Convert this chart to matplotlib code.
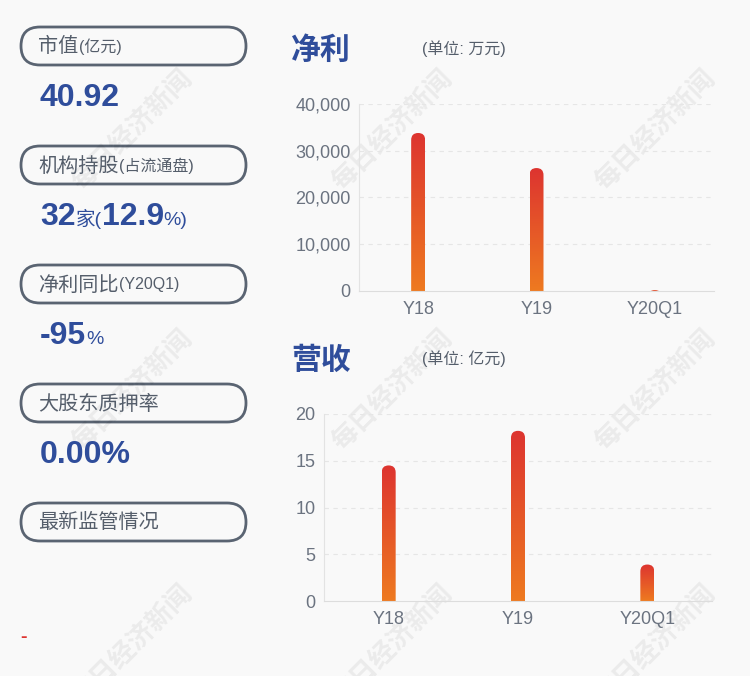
import numpy as np
import matplotlib.pyplot as plt
from matplotlib.patches import FancyBboxPatch
from matplotlib.colors import LinearSegmentedColormap

plt.rcParams['font.family'] = ['Liberation Sans', 'Noto Sans CJK SC', 'DejaVu Sans']

# data
categories = ['Y18', 'Y19', 'Y20Q1']
profit = [33800, 26300, 200]        # 净利, 万元
revenue = [14.5, 18.2, 3.9]         # 营收, 亿元
profit_ticks = [0, 10000, 20000, 30000, 40000]
revenue_ticks = [0, 5, 10, 15, 20]

info_labels = [('市值', '(亿元)'), ('机构持股', '(占流通盘)'), ('净利同比', '(Y20Q1)'),
               ('大股东质押率', ''), ('最新监管情况', '')]
info_values = [[('40.92', 'big')],
               [('32', 'big'), ('家(', 'small'), ('12.9', 'big'), ('%)', 'small')],
               [('-95', 'big'), ('%', 'small')],
               [('0.00%', 'big')],
               []]

bg = '#f9f9f9'
blue = '#2f4d9b'
gray_txt = '#555e6b'
tick_col = '#6b7380'
grad = LinearSegmentedColormap.from_list('g', ['#ee7a20', '#dd3430'])

W, H = 750, 676
fig = plt.figure(figsize=(W / 100, H / 100), dpi=100, facecolor=bg)


def px_axes(x0, y0, x1, y1):
    return fig.add_axes([x0 / W, 1 - y1 / H, (x1 - x0) / W, (y1 - y0) / H])


# background layer for left panel and watermarks
bgax = fig.add_axes([0, 0, 1, 1])
bgax.set_xlim(0, W)
bgax.set_ylim(H, 0)
bgax.axis('off')
bgax.set_zorder(-1)

for wx in [132, 392, 655]:
    for wy in [130, 390, 645]:
        bgax.text(wx, wy, '每日经济新闻', rotation=45, fontsize=19, fontweight='bold',
                  color='#000000', alpha=0.06, ha='center', va='center',
                  family=['Noto Sans CJK SC'])

# left panel pills
renderer = fig.canvas.get_renderer()
for i, (lab, sub) in enumerate(info_labels):
    cy = 46 + i * 119
    pill = FancyBboxPatch((21, cy - 19), 225, 38,
                          boxstyle='round,pad=0,rounding_size=19',
                          fc='none', ec='#5a6472', lw=2)
    bgax.add_patch(pill)
    t = bgax.text(38, cy + 1, lab, fontsize=14.5, color=gray_txt, va='center',
                  family=['Noto Sans CJK SC'])
    if sub:
        bb = t.get_window_extent(renderer=renderer)
        bgax.text(bb.x1 + 1, cy + 1, sub, fontsize=11.5, color=gray_txt, va='center',
                  family=['Liberation Sans', 'Noto Sans CJK SC'])

for i, parts in enumerate(info_values):
    cy = 96 + i * 119
    x = 40
    for txt, kind in parts:
        if kind == 'big':
            t = bgax.text(x, cy + 10, txt, fontsize=23, fontweight='bold', color=blue,
                          va='baseline')
        else:
            t = bgax.text(x, cy + 10, txt, fontsize=14, color=blue, va='baseline',
                          family=['Liberation Sans', 'Noto Sans CJK SC'])
        bb = t.get_window_extent(renderer=renderer)
        x += bb.width

bgax.text(20, 637, '-', fontsize=14, fontweight='bold', color='#dd3430', va='center')


def bar_chart(ax, values, ticks, title, unit, title_y, fmt):
    ax.set_facecolor('none')
    ax.set_xlim(-0.5, len(values) - 0.5)
    ax.set_ylim(ticks[0], ticks[-1])
    ax.set_yticks(ticks)
    ax.set_yticklabels([fmt(v) for v in ticks])
    ax.set_xticks(range(len(values)))
    ax.set_xticklabels(categories)
    ax.tick_params(length=0, labelsize=13, colors=tick_col, pad=6)
    ax.tick_params(axis='x', pad=7)
    for s in ['top', 'right']:
        ax.spines[s].set_visible(False)
    ax.spines['left'].set_color('#e3e3e3')
    ax.spines['bottom'].set_color('#dddddd')
    for v in ticks[1:]:
        ax.axhline(v, color='#e6e6e6', lw=0.8, ls=(0, (4, 4)), zorder=0)

    # pixel scale for rounded tops
    p0 = ax.transData.transform((0, 0))
    p1 = ax.transData.transform((1, 1))
    xpp = 1 / (p1[0] - p0[0])
    ypp = (ticks[-1] - ticks[0]) / (ax.transData.transform((0, ticks[-1]))[1] - p0[1])
    aspect = ypp / xpp
    bw = 14 * xpp
    r = bw / 2
    for i, v in enumerate(values):
        patch = FancyBboxPatch((i - bw / 2, -r * aspect), bw, v + r * aspect,
                               boxstyle='round,pad=0,rounding_size=%f' % r,
                               mutation_aspect=aspect, fc='none', ec='none')
        ax.add_patch(patch)
        im = ax.imshow(np.linspace(0, 1, 256).reshape(-1, 1), cmap=grad,
                       extent=[i - bw / 2, i + bw / 2, 0, max(v, ypp)], origin='lower',
                       aspect='auto', zorder=2)
        im.set_clip_path(patch)
    ax.set_xlim(-0.5, len(values) - 0.5)
    ax.set_ylim(ticks[0], ticks[-1])

    fig.text(291 / W, 1 - title_y / H, title, fontsize=21.5, fontweight='bold', color=blue,
             va='center', family=['Noto Sans CJK SC'])
    fig.text(422 / W, 1 - (title_y - 1) / H, unit, fontsize=11.5, color=gray_txt, va='center',
             family=['Liberation Sans', 'Noto Sans CJK SC'])


ax1 = px_axes(359, 104, 714, 291)
ax1.set_xlim(-0.5, 2.5)
ax1.set_ylim(0, 40000)
bar_chart(ax1, profit, profit_ticks, '净利', '(单位: 万元)', 50, lambda v: f'{v:,}')

ax2 = px_axes(324, 414, 712, 601)
ax2.set_xlim(-0.5, 2.5)
ax2.set_ylim(0, 20)
bar_chart(ax2, revenue, revenue_ticks, '营收', '(单位: 亿元)', 360, lambda v: f'{v}')

fig.savefig('out.png', dpi=100, facecolor=bg)
